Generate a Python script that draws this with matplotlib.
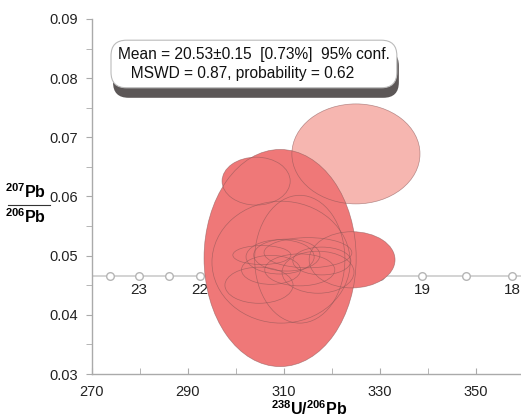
import numpy as np
import matplotlib.pyplot as plt
from matplotlib.patches import Ellipse
from matplotlib.lines import Line2D
import matplotlib.transforms as mtransforms

plt.rcParams['font.family'] = ['Liberation Sans', 'DejaVu Sans']
plt.rcParams['mathtext.fontset'] = 'custom'
plt.rcParams['mathtext.rm'] = 'Liberation Sans'
plt.rcParams['mathtext.bf'] = 'Liberation Sans:bold'

# error ellipses: 238U/206Pb centre, 207Pb/206Pb centre, full width, full height
ell_x = [309.2, 313.3, 309.4, 304.2, 324.2, 317.9, 307.3, 304.8, 305.4,
         309.2, 310.6, 315.0, 317.1, 313.3]
ell_y = [0.0496, 0.0494, 0.0489, 0.0626, 0.0493, 0.0491, 0.0476, 0.0450,
         0.0501, 0.0498, 0.0501, 0.0505, 0.0472, 0.0476]
ell_w = [31.7, 18.8, 28.8, 14.2, 17.9, 12.1, 12.3, 14.2, 12.1,
         14.2, 13.8, 18.3, 15.0, 14.6]
ell_h = [0.0367, 0.0216, 0.0206, 0.0081, 0.0095, 0.0047, 0.0049, 0.0061,
         0.0032, 0.0058, 0.0054, 0.0051, 0.0071, 0.0054]

# rejected analysis (light)
rej_x = [325.0]
rej_y = [0.0672]
rej_w = [26.7]
rej_h = [0.0169]

# concordia (Ma ticks)
conc_ages = [23.5, 23, 22.5, 22, 21.5, 21, 20.5, 20, 19.5, 19, 18.5, 18]
conc_x = [273.8, 279.8, 286.0, 292.5, 299.3, 306.2, 314.0, 321.8, 330.1,
          338.8, 348.0, 357.6]
conc_y = [0.0466] * len(conc_x)
conc_labels = ['23', '22', '21', '20', '19', '18']

W, H = 521, 419
fig = plt.figure(figsize=(W / 100, H / 100), dpi=100)
ax = fig.add_axes([92 / W, 45 / H, 1 - 92 / W, 355 / H])
ax.set_xlim(270, 359.4)
ax.set_ylim(0.03, 0.09)

# concordia line + markers
ax.plot([270, 359.4], [conc_y[0], conc_y[0]], color='#cccccc', lw=1.2, zorder=1)
ax.plot(conc_x, conc_y, 'o', ms=5.5, mfc='white', mec='#b5b5b5', mew=1, zorder=1)
for a, x, y in zip(conc_ages, conc_x, conc_y):
    if a == int(a) and str(int(a)) in conc_labels:
        ax.annotate(str(int(a)), (x, y), xytext=(0, -10), textcoords='offset points',
                    ha='center', va='center', fontsize=11, color='#222222', zorder=1)

for x, y, w, h in zip(rej_x, rej_y, rej_w, rej_h):
    ax.add_patch(Ellipse((x, y), w, h, fc='#f6b6b0', ec='none', zorder=2))
for x, y, w, h in zip(ell_x, ell_y, ell_w, ell_h):
    ax.add_patch(Ellipse((x, y), w, h, fc='#ef7878', ec='none', zorder=3))
for x, y, w, h in zip(rej_x + ell_x, rej_y + ell_y, rej_w + ell_w, rej_h + ell_h):
    ax.add_patch(Ellipse((x, y), w, h, fc='none', ec='#8a5555', lw=0.5,
                         alpha=0.6, zorder=4))

# axes styling
for s in ['top', 'right']:
    ax.spines[s].set_visible(False)
for s in ['left', 'bottom']:
    ax.spines[s].set_color('#aaaaaa')
    ax.spines[s].set_linewidth(1)
ax.set_xticks([270, 290, 310, 330, 350])
ax.set_xticks(np.arange(280, 360, 20), minor=True)
ax.set_yticks([0.03, 0.04, 0.05, 0.06, 0.07, 0.08, 0.09])
ax.set_yticklabels(['0.03', '0.04', '0.05', '0.06', '0.07', '0.08', '0.09'])
ax.set_yticks(np.arange(0.035, 0.09, 0.01), minor=True)
ax.tick_params(axis='x', which='both', direction='in', length=4, color='#aaaaaa',
               labelsize=10.5, labelcolor='#222222', pad=8)
ax.tick_params(axis='y', which='both', direction='out', length=4, color='#aaaaaa',
               labelsize=10.5, labelcolor='#222222', pad=6)

# axis labels
fig.text(309 / W, 1 - 409 / H, r'$\mathbf{^{238}U/^{206}Pb}$', ha='center',
         va='center', fontsize=11.5)
fig.text(26 / W, 1 - 192 / H, r'$\mathbf{^{207}Pb}$', ha='center', va='center',
         fontsize=11.5)
fig.text(26 / W, 1 - 217 / H, r'$\mathbf{^{206}Pb}$', ha='center', va='center',
         fontsize=11.5)
fig.add_artist(Line2D([8 / W, 50 / W], [1 - 205 / H, 1 - 205 / H],
                      color='#333333', lw=0.8, transform=fig.transFigure))

# result box with shadow
msg = 'Mean = 20.53\u00b10.15  [0.73%]  95% conf.\n   MSWD = 0.87, probability = 0.62'
bx, by = 118 / W, 1 - 64 / H
shadow = fig.transFigure + mtransforms.ScaledTranslation(2 / 100, -10 / 100,
                                                         fig.dpi_scale_trans)
box_kw = dict(ha='left', va='center', fontsize=11.2, linespacing=1.3,
              multialignment='left')
fig.text(bx, by, msg, color='none', transform=shadow,
         bbox=dict(boxstyle='round,pad=0.45,rounding_size=1.0', fc='#5c5757',
                   ec='none'), **box_kw)
fig.text(bx, by, msg, color='#111111',
         bbox=dict(boxstyle='round,pad=0.45,rounding_size=1.0', fc='white',
                   ec='#bbbbbb', lw=0.8), **box_kw)

fig.savefig('out.png', dpi=100)
